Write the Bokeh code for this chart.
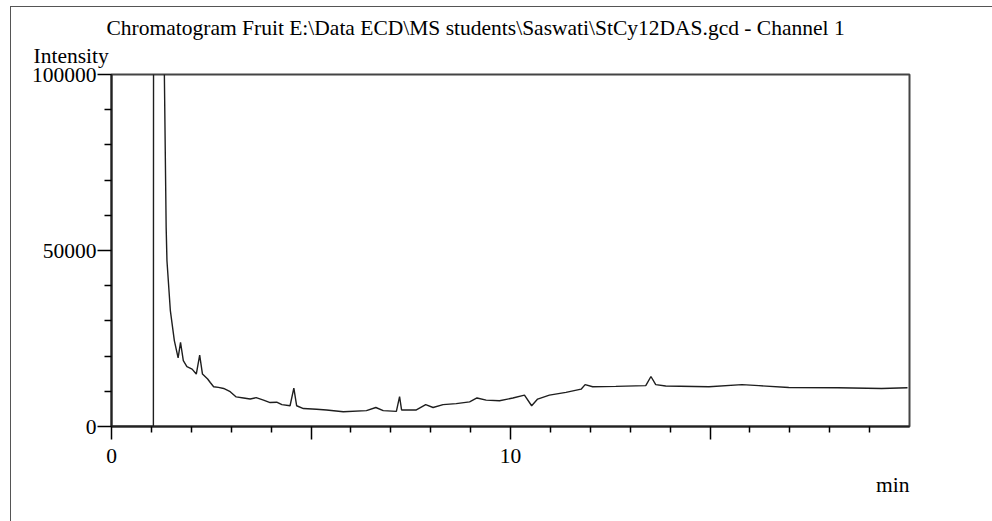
from bokeh.plotting import figure
from bokeh.models import Range1d, FixedTicker, Title, InlineStyleSheet
from bokeh.embed import file_html
from bokeh.resources import INLINE

# --- data (time in min, intensity in counts) ---
time_min = [0.0, 1.05, 1.06, 1.15, 1.30, 1.325, 1.37, 1.39, 1.475, 1.575, 1.67, 1.73,
            1.80, 1.89, 2.02, 2.125, 2.21, 2.28, 2.41, 2.475, 2.56, 2.68, 2.81, 2.975,
            3.125, 3.31, 3.475, 3.625, 3.81, 3.975, 4.14, 4.27, 4.475, 4.57, 4.64, 4.81,
            5.14, 5.39, 5.81, 6.39, 6.625, 6.81, 7.14, 7.22, 7.27, 7.475, 7.64, 7.875,
            8.06, 8.31, 8.64, 8.975, 9.16, 9.39, 9.725, 10.06, 10.35, 10.53, 10.68,
            10.975, 11.39, 11.77, 11.87, 12.06, 12.64, 13.39, 13.52, 13.64, 13.89,
            14.975, 15.8, 16.225, 16.975, 18.2, 19.3, 19.95]
intensity = [0, 0, 300000, 400000, 200000, 100000, 56500, 47100, 32900, 24400, 19500, 23900,
             18700, 17000, 16300, 14900, 20300, 14900, 13500, 12500, 11300, 11100, 10800, 9900,
             8400, 8100, 7800, 8200, 7500, 6800, 6900, 6200, 5900, 10900, 5900, 5100,
             4900, 4700, 4200, 4500, 5400, 4500, 4300, 8500, 4700, 4700, 4700, 6200,
             5400, 6200, 6500, 7000, 8100, 7500, 7300, 8100, 8900, 5900, 7800,
             8900, 9700, 10600, 11900, 11300, 11400, 11600, 14200, 11900, 11500,
             11300, 11900, 11600, 11100, 11000, 10800, 11000]

x_major = [0, 5, 10, 15]
x_minor = [1, 2, 3, 4, 6, 7, 8, 9, 11, 12, 13, 14, 16, 17, 18, 19]
x_labels = {0: "0", 5: "", 10: "10", 15: ""}
y_major = [0, 50000, 100000]
y_minor = [10000, 20000, 30000, 40000, 60000, 70000, 80000, 90000]
y_labels = {0: "0", 50000: "50000", 100000: "100000"}

title_text = "Chromatogram Fruit E:\\Data ECD\\MS students\\Saswati\\StCy12DAS.gcd - Channel 1"
y_title = "Intensity"
x_title = "min"
FONT = "Liberation Serif"
FS = "21.5px"

frame_css = InlineStyleSheet(css="""
:host::after {
  content: "";
  position: absolute;
  left: 10px; top: 6px; right: 0px; bottom: 0px;
  border-left: 1.5px solid #555555;
  border-top: 1.5px solid #555555;
  pointer-events: none;
}
""")

p = figure(width=992, height=521, output_backend="svg", toolbar_location=None,
           x_range=Range1d(0, 20), y_range=Range1d(0, 100000), title=None,
           min_border_left=111, min_border_right=83, min_border_top=74, min_border_bottom=95,
           stylesheets=[frame_css])
p.grid.visible = False
p.background_fill_color = "white"
p.border_fill_color = "white"
p.outline_line_color = "#444444"
p.outline_line_width = 2

p.line(time_min, intensity, line_color="#1e1e1e", line_width=1.4)

xa = p.xaxis[0]
xa.ticker = FixedTicker(ticks=x_major, minor_ticks=x_minor)
xa.major_label_overrides = x_labels
xa.major_tick_out = 13
xa.major_tick_in = 0
xa.minor_tick_out = 6
xa.minor_tick_in = 0
xa.axis_line_width = 2
xa.axis_line_color = "#222222"
xa.major_tick_line_width = 1.5
xa.minor_tick_line_width = 1.5
xa.major_label_text_font = FONT
xa.major_label_text_font_size = FS
xa.major_label_text_color = "black"
xa.major_label_standoff = 9

ya = p.yaxis[0]
ya.ticker = FixedTicker(ticks=y_major, minor_ticks=y_minor)
ya.major_label_overrides = y_labels
ya.major_tick_out = 14
ya.major_tick_in = 0
ya.minor_tick_out = 7
ya.minor_tick_in = 0
ya.axis_line_width = 2
ya.axis_line_color = "#222222"
ya.major_tick_line_width = 1.5
ya.minor_tick_line_width = 1.5
ya.major_label_text_font = FONT
ya.major_label_text_font_size = FS
ya.major_label_text_color = "black"
ya.major_label_standoff = 1

t_int = Title(text=y_title, align="left", offset=-78, standoff=13,
              text_font=FONT, text_font_size=FS, text_font_style="normal", text_color="black")
t_main = Title(text=title_text, align="left", offset=-5, standoff=-8,
               text_font=FONT, text_font_size=FS, text_font_style="normal", text_color="black")
t_min = Title(text=x_title, align="right", offset=0, standoff=11,
              text_font=FONT, text_font_size=FS, text_font_style="normal", text_color="black")
p.add_layout(t_int, "above")
p.add_layout(t_main, "above")
p.add_layout(t_min, "below")

open("out.html", "w").write(file_html(p, INLINE))
